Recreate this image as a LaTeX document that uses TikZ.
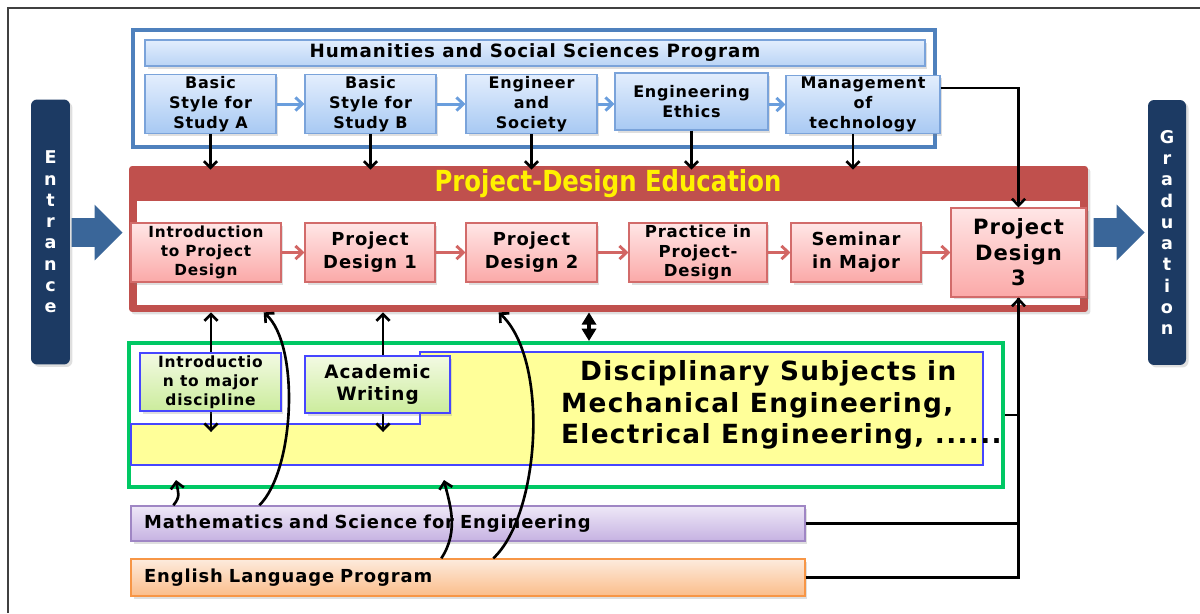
\documentclass[tikz,border=0pt]{standalone}
\usepackage{fontspec}
\setmainfont{DejaVu Sans}[LetterSpace=5]
\newfontfamily\pdtitlefont{DejaVu Sans}
\usepackage{graphicx}
\usepackage{tikz}
\usetikzlibrary{shapes.geometric, shapes.arrows, arrows, arrows.meta}
\usetikzlibrary{calc}
\usetikzlibrary{positioning}
\usetikzlibrary{shadows}

\definecolor{navybar}{HTML}{1C3A63}
\definecolor{fatblue}{HTML}{3A6699}
\definecolor{hssframe}{HTML}{4F81BD}
\definecolor{hssline}{HTML}{7AA3DA}
\definecolor{hsstop}{HTML}{E3EEFD}
\definecolor{hssbot}{HTML}{A8C9F3}
\definecolor{hssarrow}{HTML}{6A9EDD}
\definecolor{pdered}{HTML}{C0504D}
\definecolor{pdline}{HTML}{D26B6A}
\definecolor{pdtop}{HTML}{FFE6E6}
\definecolor{pdbot}{HTML}{FBA9A8}
\definecolor{pdarrow}{HTML}{D26664}
\definecolor{discgreen}{HTML}{00C864}
\definecolor{discyellow}{HTML}{FFFF99}
\definecolor{discline}{HTML}{4646FF}
\definecolor{subtop}{HTML}{F3FAE3}
\definecolor{subbot}{HTML}{CBEC9C}
\definecolor{mathline}{HTML}{9F86C4}
\definecolor{mathtop}{HTML}{EEE8F7}
\definecolor{mathbot}{HTML}{C6B2E2}
\definecolor{engline}{HTML}{F79646}
\definecolor{engtop}{HTML}{FDEBDD}
\definecolor{engbot}{HTML}{FBBD8A}

\begin{document}
\begin{tikzpicture}[x=0.02cm, y=-0.02cm,
        nodes={inner sep=1pt, align=center},
        >={Straight Barb[length=3.8pt, width=7.5pt]},
        soft_shadow/.style={drop shadow={opacity=0.25, shadow xshift=0.05cm, shadow yshift=-0.05cm}},
        hss_style/.style={rectangle, draw=hssline, line width=0.8pt, top color=hsstop, bottom color=hssbot, soft_shadow, font={\fontsize{9.1}{11.3}\selectfont\bfseries}},
        pd_style/.style={rectangle, draw=pdline, line width=0.8pt, top color=pdtop, bottom color=pdbot, soft_shadow},
        sub_style/.style={rectangle, draw=discline, line width=0.6pt, top color=subtop, bottom color=subbot, soft_shadow},
        bar_style/.style={rectangle, line width=0.8pt, soft_shadow, minimum width=13.48cm, text width=12.96cm, align=left, font={\fontsize{10.2}{12}\selectfont\bfseries}},
        side_style/.style={rectangle, rounded corners=0.12cm, fill=navybar, text=white, minimum width=0.78cm, minimum height=5.3cm, soft_shadow, font={\fontsize{10}{12.1}\selectfont\bfseries}},
        fat_arrow/.style={single arrow, fill=fatblue, minimum height=1.02cm, inner xsep=0pt, inner ysep=0.28cm, single arrow head extend=0.27cm, anchor=tip},
        link/.style={->, line width=1.5pt},
        hss_link/.style={->, draw=hssarrow, line width=1.7pt},
        pd_link/.style={->, draw=pdarrow, line width=1.7pt}]

      \useasboundingbox (0,0) rectangle (1200,613);
      \draw[line width=1pt, draw=black!75] (8,613) -- (8,8) -- (1200,8);

      % entrance and graduation
      \node[side_style] (entrance) at (50.5,232) {E\\n\\t\\r\\a\\n\\c\\e};
      \node[fat_arrow] (in_arrow) at (123,232.5) {};
      \node[side_style, minimum width=0.76cm] (graduation) at (1167,232.5) {G\\r\\a\\d\\u\\a\\t\\i\\o\\n};
      \node[fat_arrow] (out_arrow) at (1145,232.5) {};

      % humanities program
      \node[rectangle, draw=hssframe, line width=2.2pt, fill=white, minimum width=16.04cm, minimum height=2.34cm, soft_shadow] (hss_frame) at (534,88.5) {};
      \node[rectangle, draw=hssline, line width=0.8pt, top color=hsstop, bottom color=hssbot!80, minimum width=15.6cm, minimum height=0.52cm, soft_shadow, font={\fontsize{10.4}{12}\selectfont\bfseries}] (hss_title) at (535,53) {Humanities and Social Sciences Program};
      \node[hss_style, minimum width=2.62cm, minimum height=1.16cm] (study_a) at (210.5,104) {Basic\\Style for\\Study A};
      \node[hss_style, minimum width=2.62cm, minimum height=1.16cm] (study_b) at (370.5,104) {Basic\\Style for\\Study B};
      \node[hss_style, minimum width=2.62cm, minimum height=1.16cm] (eng_society) at (531.5,104) {Engineer\\and\\Society};
      \node[hss_style, minimum width=3.06cm, minimum height=1.14cm] (eng_ethics) at (691.5,101.5) {Engineering\\Ethics};
      \node[hss_style, minimum width=3.08cm, minimum height=1.14cm] (mgmt_tech) at (863,104.5) {Management\\of\\technology};

      \draw[hss_link] (study_a) -- (study_b);
      \draw[hss_link] (study_b) -- (eng_society);
      \draw[hss_link] (eng_society) -- (eng_society -| eng_ethics.west);
      \draw[hss_link] (eng_ethics.east |- mgmt_tech) -- (mgmt_tech.west);

      % project-design education
      \node[rectangle, rounded corners=0.06cm, fill=pdered, minimum width=19.18cm, minimum height=2.92cm, soft_shadow] (pde_frame) at (608.5,239) {};
      \node[rectangle, fill=white, minimum width=18.86cm, minimum height=2.08cm, inner sep=0pt] (pde_inner) at (608.5,253) {};
      \node[text=yellow, font={\pdtitlefont\fontsize{16.5}{18}\selectfont\bfseries}] (pde_title) at (608,184) {\scalebox{0.84}[1]{Project-Design Education}};

      \draw[link, shorten >=-0.08cm] (study_a.south) -- (study_a.south |- pde_frame.north);
      \draw[link, shorten >=-0.08cm] (study_b.south) -- (study_b.south |- pde_frame.north);
      \draw[link, shorten >=-0.08cm] (eng_society.south) -- (eng_society.south |- pde_frame.north);
      \draw[link, shorten >=-0.08cm] (eng_ethics.south) -- (eng_ethics.south |- pde_frame.north);
      \draw[link, shorten >=-0.08cm] ([xshift=-0.2cm]mgmt_tech.south) -- ([xshift=-0.2cm]mgmt_tech.south |- pde_frame.north);

      \node[pd_style, minimum width=3.0cm, minimum height=1.18cm, font={\fontsize{8.7}{10.8}\selectfont\bfseries}] (intro_pd) at (206,252.5) {Introduction\\to Project\\Design};
      \node[pd_style, minimum width=2.6cm, minimum height=1.18cm, font={\fontsize{10.2}{13}\selectfont\bfseries}] (pd_one) at (370,252.5) {Project\\Design 1};
      \node[pd_style, minimum width=2.62cm, minimum height=1.18cm, font={\fontsize{10.2}{13}\selectfont\bfseries}] (pd_two) at (531.5,252.5) {Project\\Design 2};
      \node[pd_style, minimum width=2.76cm, minimum height=1.18cm, font={\fontsize{9.4}{11.3}\selectfont\bfseries}] (practice) at (698,252.5) {Practice in\\Project-\\Design};
      \node[pd_style, minimum width=2.6cm, minimum height=1.18cm, font={\fontsize{10.2}{13}\selectfont\bfseries}] (seminar) at (856,252.5) {Seminar\\in Major};
      \node[pd_style, minimum width=2.7cm, minimum height=1.78cm, font={\fontsize{12}{14.5}\selectfont\bfseries}] (pd_three) at (1018.5,252.5) {Project\\Design\\3};

      \draw[pd_link] (intro_pd) -- (pd_one);
      \draw[pd_link] (pd_one) -- (pd_two);
      \draw[pd_link] (pd_two) -- (practice);
      \draw[pd_link] (practice) -- (seminar);
      \draw[pd_link] (seminar) -- (pd_three);

      \draw[link] ([yshift=0.33cm]mgmt_tech.east) -| (pd_three.north);

      % disciplinary subjects
      \node[rectangle, draw=discgreen, line width=2.3pt, minimum width=17.48cm, minimum height=2.88cm] (disc_frame) at (566,415) {};
      \draw[fill=discyellow, draw=discline, line width=0.6pt] (131,424) -- (420,424) -- (420,352) -- (983,352) -- (983,465) -- (131,465) -- cycle;

      \coordinate (major_link) at (211,432);
      \coordinate (writing_link) at (383,432);
      \coordinate (disc_link) at (589,330);
      \draw[<->, line width=1.5pt] (major_link |- pde_frame.south) -- (major_link);
      \draw[<->, line width=1.5pt] (writing_link |- pde_frame.south) -- (writing_link);
      \draw[{Triangle[length=7pt, width=8pt]}-{Triangle[length=7pt, width=8pt]}, line width=2.2pt] (pde_frame.south -| disc_link) -- (disc_frame.north -| disc_link);

      \node[sub_style, minimum width=2.82cm, minimum height=1.16cm, font={\fontsize{8.8}{10.8}\selectfont\bfseries}] (intro_major) at (210.5,382) {Introductio\\n to major\\discipline};
      \node[sub_style, minimum width=2.9cm, minimum height=1.14cm, font={\fontsize{10.5}{12}\selectfont\bfseries}] (acad_writing) at (377.5,384.5) {Academic\\Writing};
      \node[anchor=west, align=left, font={\fontsize{15}{17.9}\selectfont\bfseries}] (disc_text) at (559,405) {\hspace{0.38cm}Disciplinary Subjects in\\Mechanical Engineering,\\Electrical Engineering, ......};

      % math and english
      \node[bar_style, draw=mathline, top color=mathtop, bottom color=mathbot, minimum height=0.7cm] (math_bar) at (468,523.5) {Mathematics and Science for Engineering};
      \node[bar_style, draw=engline, top color=engtop, bottom color=engbot, minimum height=0.74cm] (english_bar) at (468,577.5) {English Language Program};

      \draw[link] ([xshift=2.58cm]math_bar.north west) .. controls (295,470) and (300,345) .. ([xshift=2.7cm]pde_frame.south west);
      \draw[link] ([xshift=7.26cm]english_bar.north west) .. controls (540,515) and (550,360) .. ([xshift=7.4cm]pde_frame.south west);
      \draw[link] ([xshift=0.86cm]math_bar.north west) .. controls (181,496) and (178,493) .. ([xshift=0.98cm, yshift=0.18cm]disc_frame.south west);
      \draw[link] ([xshift=6.22cm]english_bar.north west) .. controls (460,530) and (449,502) .. ([xshift=6.34cm, yshift=0.18cm]disc_frame.south west);

      \draw[line width=1.5pt] (math_bar.east) -| (pd_three.south);
      \draw[line width=1.5pt] (disc_frame.east) -- (disc_frame.east -| pd_three.south);
      \draw[link] (english_bar.east) -| (pd_three.south);
    \end{tikzpicture}
\end{document}
